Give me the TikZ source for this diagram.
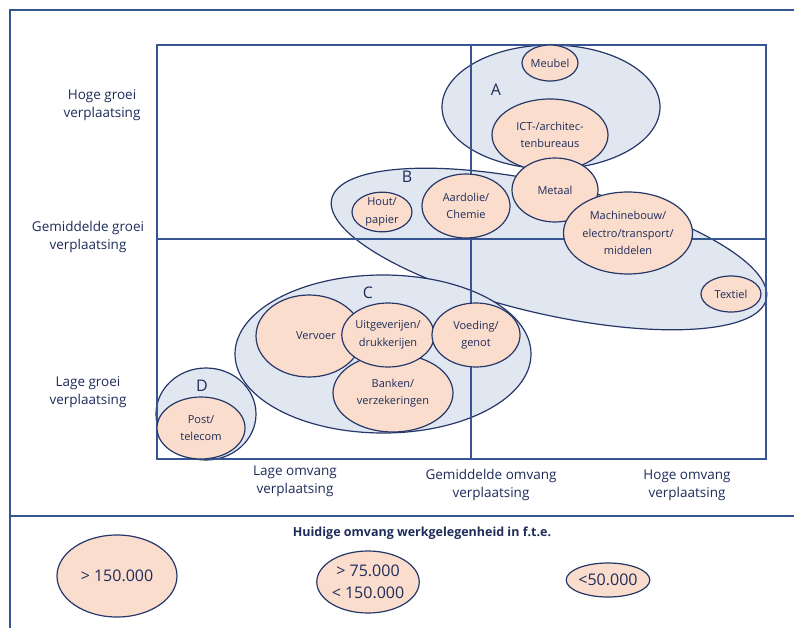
\documentclass[tikz,border=0pt]{standalone}
\usepackage{fontspec}
\setmainfont{Open Sans}
\usetikzlibrary{shapes.geometric}
\definecolor{navy}{RGB}{30,44,90}
\definecolor{edge}{RGB}{38,55,105}
\definecolor{grpfill}{RGB}{225,231,240}
\definecolor{secfill}{RGB}{250,221,205}
\definecolor{framecol}{RGB}{55,85,145}
\begin{document}
\begin{tikzpicture}[x=1pt,y=-1pt,
  grp/.style={ellipse, draw=edge, fill=grpfill, line width=1.2pt, inner sep=0pt},
  sect/.style={ellipse, draw=edge, fill=secfill, line width=1.2pt, inner sep=0pt,
     text=navy, align=center, font=\fontsize{11}{17.5}\selectfont},
  lbl/.style={text=navy, align=center, font=\fontsize{13.5}{18}\selectfont},
  grplbl/.style={text=navy, font=\fontsize{16}{18}\selectfont},
  legnum/.style={text=navy, align=center, font=\fontsize{16}{22}\selectfont},
  gridline/.style={draw=framecol, line width=1.2pt},
  framedraw/.style={draw=framecol, line width=1.6pt}]
\useasboundingbox (0,0) rectangle (794,628);
\fill[white] (0,0) rectangle (794,628);
% outer frame
\draw[framedraw] (10,640) -- (10,10) -- (800,10);
\draw[framedraw] (10,516) -- (800,516);
% group ellipses
\node[grp, minimum width=446pt, minimum height=130pt, rotate=-13] (B) at (549,249) {};
\node[grp, minimum width=218pt, minimum height=124pt] (A) at (551,107) {};
\node[grp, minimum width=296pt, minimum height=158pt] (C) at (383,354) {};
\node[grp, minimum width=100pt, minimum height=92pt] (D) at (206,414) {};
% grid
\draw[gridline] (157,45) rectangle (766,459);
\draw[gridline] (157,239) -- (766,239);
\draw[gridline] (471,45) -- (471,459);
% sectors
\node[sect, minimum width=56pt, minimum height=36pt] (meubel) at (550,63) {Meubel};
\node[sect, minimum width=116pt, minimum height=72pt] (ict) at (550,135) {ICT-/architec-\\tenbureaus};
\node[sect, minimum width=86pt, minimum height=64pt] (metaal) at (555,190) {Metaal};
\node[sect, minimum width=88pt, minimum height=64pt] (aardolie) at (466,206) {Aardolie/\\Chemie};
\node[sect, minimum width=60pt, minimum height=34pt] (hout) at (382,212) {Hout/\\papier};
\node[sect, minimum width=118pt, minimum height=82pt] (machine) at (628,233) {Machinebouw/\\electro/transport/\\middelen};
\node[sect, minimum width=60pt, minimum height=36pt] (textiel) at (731,294) {Textiel};
\node[sect, minimum width=106pt, minimum height=82pt] (vervoer) at (309,336) {\hspace*{14pt}Vervoer};
\node[sect, minimum width=120pt, minimum height=78pt] (banken) at (393,393) {Banken/\\verzekeringen};
\node[sect, minimum width=90pt, minimum height=64pt] (uitg) at (388,335) {Uitgeverijen/\\drukkerijen};
\node[sect, minimum width=88pt, minimum height=64pt] (voeding) at (476,335) {Voeding/\\genot};
\node[sect, minimum width=88pt, minimum height=62pt] (post) at (201,428) {Post/\\telecom};
% group letters
\node[grplbl] (la) at (496,90) {A};
\node[grplbl] (lb) at (407,177) {B};
\node[grplbl] (lc) at (368,293) {C};
\node[grplbl] (ld) at (202,386) {D};
% axis labels
\node[lbl] (yh) at (102,105) {Hoge groei\\verplaatsing};
\node[lbl] (ym) at (88,237) {Gemiddelde groei\\verplaatsing};
\node[lbl] (yl) at (88,392) {Lage groei\\verplaatsing};
\node[lbl] (xl) at (295,481) {Lage omvang\\verplaatsing};
\node[lbl] (xm) at (491,485) {Gemiddelde omvang\\verplaatsing};
\node[lbl] (xh) at (687,485) {Hoge omvang\\verplaatsing};
% legend
\node[text=navy, font=\fontsize{12.5}{14}\selectfont\bfseries] (legtitle) at (422,533) {Huidige omvang werkgelegenheid in f.t.e.};
\node[sect, minimum width=120pt, minimum height=82pt, legnum] (leg1) at (117,576) {> 150.000};
\node[sect, minimum width=88pt, minimum height=62pt, legnum] (leg2) at (368,582) {> 75.000\\< 150.000};
\node[sect, minimum width=58pt, minimum height=34pt, legnum] (leg3) at (608,580) {<50.000};
\end{tikzpicture}
\end{document}
